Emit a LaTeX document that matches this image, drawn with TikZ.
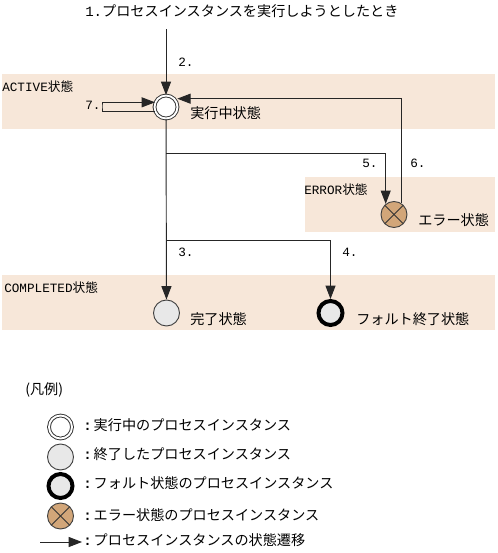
\documentclass[tikz,border=0pt]{standalone}
\usepackage{fontspec}
\setmainfont{Noto Sans CJK JP}
\newfontfamily\latn{Liberation Mono}
\usepackage{xcolor}
\usetikzlibrary{arrows.meta,positioning}
\definecolor{bandtan}{HTML}{F7E7D9}
\definecolor{endgray}{HTML}{E8E8E8}
\definecolor{errtan}{HTML}{D2A679}
\tikzset{
  lbl/.style={anchor=west,inner sep=0pt,font=\fontsize{10.6pt}{12pt}\selectfont},
  num/.style={anchor=west,inner sep=0pt,font=\latn\fontsize{9.5pt}{12pt}\selectfont},
  flow/.style={draw=black!85,line width=0.7pt,-{Triangle[length=10pt,width=7.5pt]}},
  runst/.style={circle,draw=black!80,fill=white,line width=0.7pt,double=white,
    double distance=1.4pt,minimum size=17.25pt,inner sep=0pt},
  endst/.style={circle,draw=black!75,fill=endgray,line width=0.7pt,minimum size=19.5pt,inner sep=0pt},
  faultst/.style={circle,draw=black,fill=endgray,line width=3pt,minimum size=18pt,inner sep=0pt},
  errst/.style={circle,draw=black!75,fill=errtan,line width=0.7pt,minimum size=19.5pt,inner sep=0pt,
    path picture={
      \draw[black!80,line width=0.6pt] (path picture bounding box.north west) -- (path picture bounding box.south east);
      \draw[black!80,line width=0.6pt] (path picture bounding box.north east) -- (path picture bounding box.south west);
    }},
}
\begin{document}
\begin{tikzpicture}[x=0.75pt,y=-0.75pt]
    \useasboundingbox (0,0) rectangle (497,553);
    % State bands
    \fill[bandtan] (2,74) rectangle (495,129);
    \fill[bandtan] (305,177) rectangle (495,232);
    \fill[bandtan] (2,275) rectangle (495,330);
    \node[num] (activelbl) at (2,87) {ACTIVE{\rmfamily 状態}};
    \node[num] (errorlbl) at (304,190) {ERROR{\rmfamily 状態}};
    \node[num] (donelbl) at (4,288) {COMPLETED{\rmfamily 状態}};
    % States
    \node[runst] (run) at (166,107) {};
    \node[errst] (err) at (394,214.5) {};
    \node[endst] (done) at (166.5,313) {};
    \node[faultst] (fault) at (330.5,313) {};
    \node[lbl] (runlbl) at (190,113) {実行中状態};
    \node[lbl] (errlbl) at (418,220) {エラー状態};
    \node[lbl] (donetxt) at (190,319) {完了状態};
    \node[lbl] (faulttxt) at (356,319) {フォルト終了状態};
    % Transitions
    \node[lbl] (title) at (85,11) {{\latn 1.}プロセスインスタンスを実行しようとしたとき};
    \coordinate (start) at (166,29);
    \coordinate (loopl) at (102,106);
    \coordinate (branchb) at (166,153);
    \coordinate (branchc) at (166,240);
    \draw[flow] (start) -- (run);
    \draw[flow] (run.203) -| (loopl) |- (run.157);
    \draw[flow] (run) -- (done);
    \draw[flow] (branchb) -| (err.128);
    \draw[flow] (branchc) -| (fault);
    \draw[flow,shorten >=2pt] (err.57) |- (run.44);
    \node[num] (stepb) at (178,62) {2.};
    \node[num] (stepg) at (85,105) {7.};
    \node[num] (stepe) at (362,163) {5.};
    \node[num] (stepf) at (410,163) {6.};
    \node[num] (stepc) at (178,252) {3.};
    \node[num] (stepd) at (342,252) {4.};
    % Legend
    \node[lbl] (legend) at (25,390) {(凡例)};
    \node[runst] (keyrun) at (60.5,427) {};
    \node[endst] (keydone) at (60.5,457) {};
    \node[faultst] (keyfault) at (60.5,486) {};
    \node[errst] (keyerr) at (60.5,516) {};
    \coordinate (keyfrom) at (40,542);
    \coordinate (keyto) at (82,542);
    \draw[flow] (keyfrom) -- (keyto);
    \node[lbl] (keya) at (83,425) {{\latn\bfseries :}\hspace{1.5pt}実行中のプロセスインスタンス};
    \node[lbl] (keyb) at (83,454) {{\latn\bfseries :}\hspace{1.5pt}終了したプロセスインスタンス};
    \node[lbl] (keyc) at (83,483) {{\latn\bfseries :}\hspace{1.5pt}フォルト状態のプロセスインスタンス};
    \node[lbl] (keyd) at (83,515) {{\latn\bfseries :}\hspace{1.5pt}エラー状態のプロセスインスタンス};
    \node[lbl] (keye) at (83,540) {{\latn\bfseries :}\hspace{1.5pt}プロセスインスタンスの状態遷移};
  \end{tikzpicture}
\end{document}
